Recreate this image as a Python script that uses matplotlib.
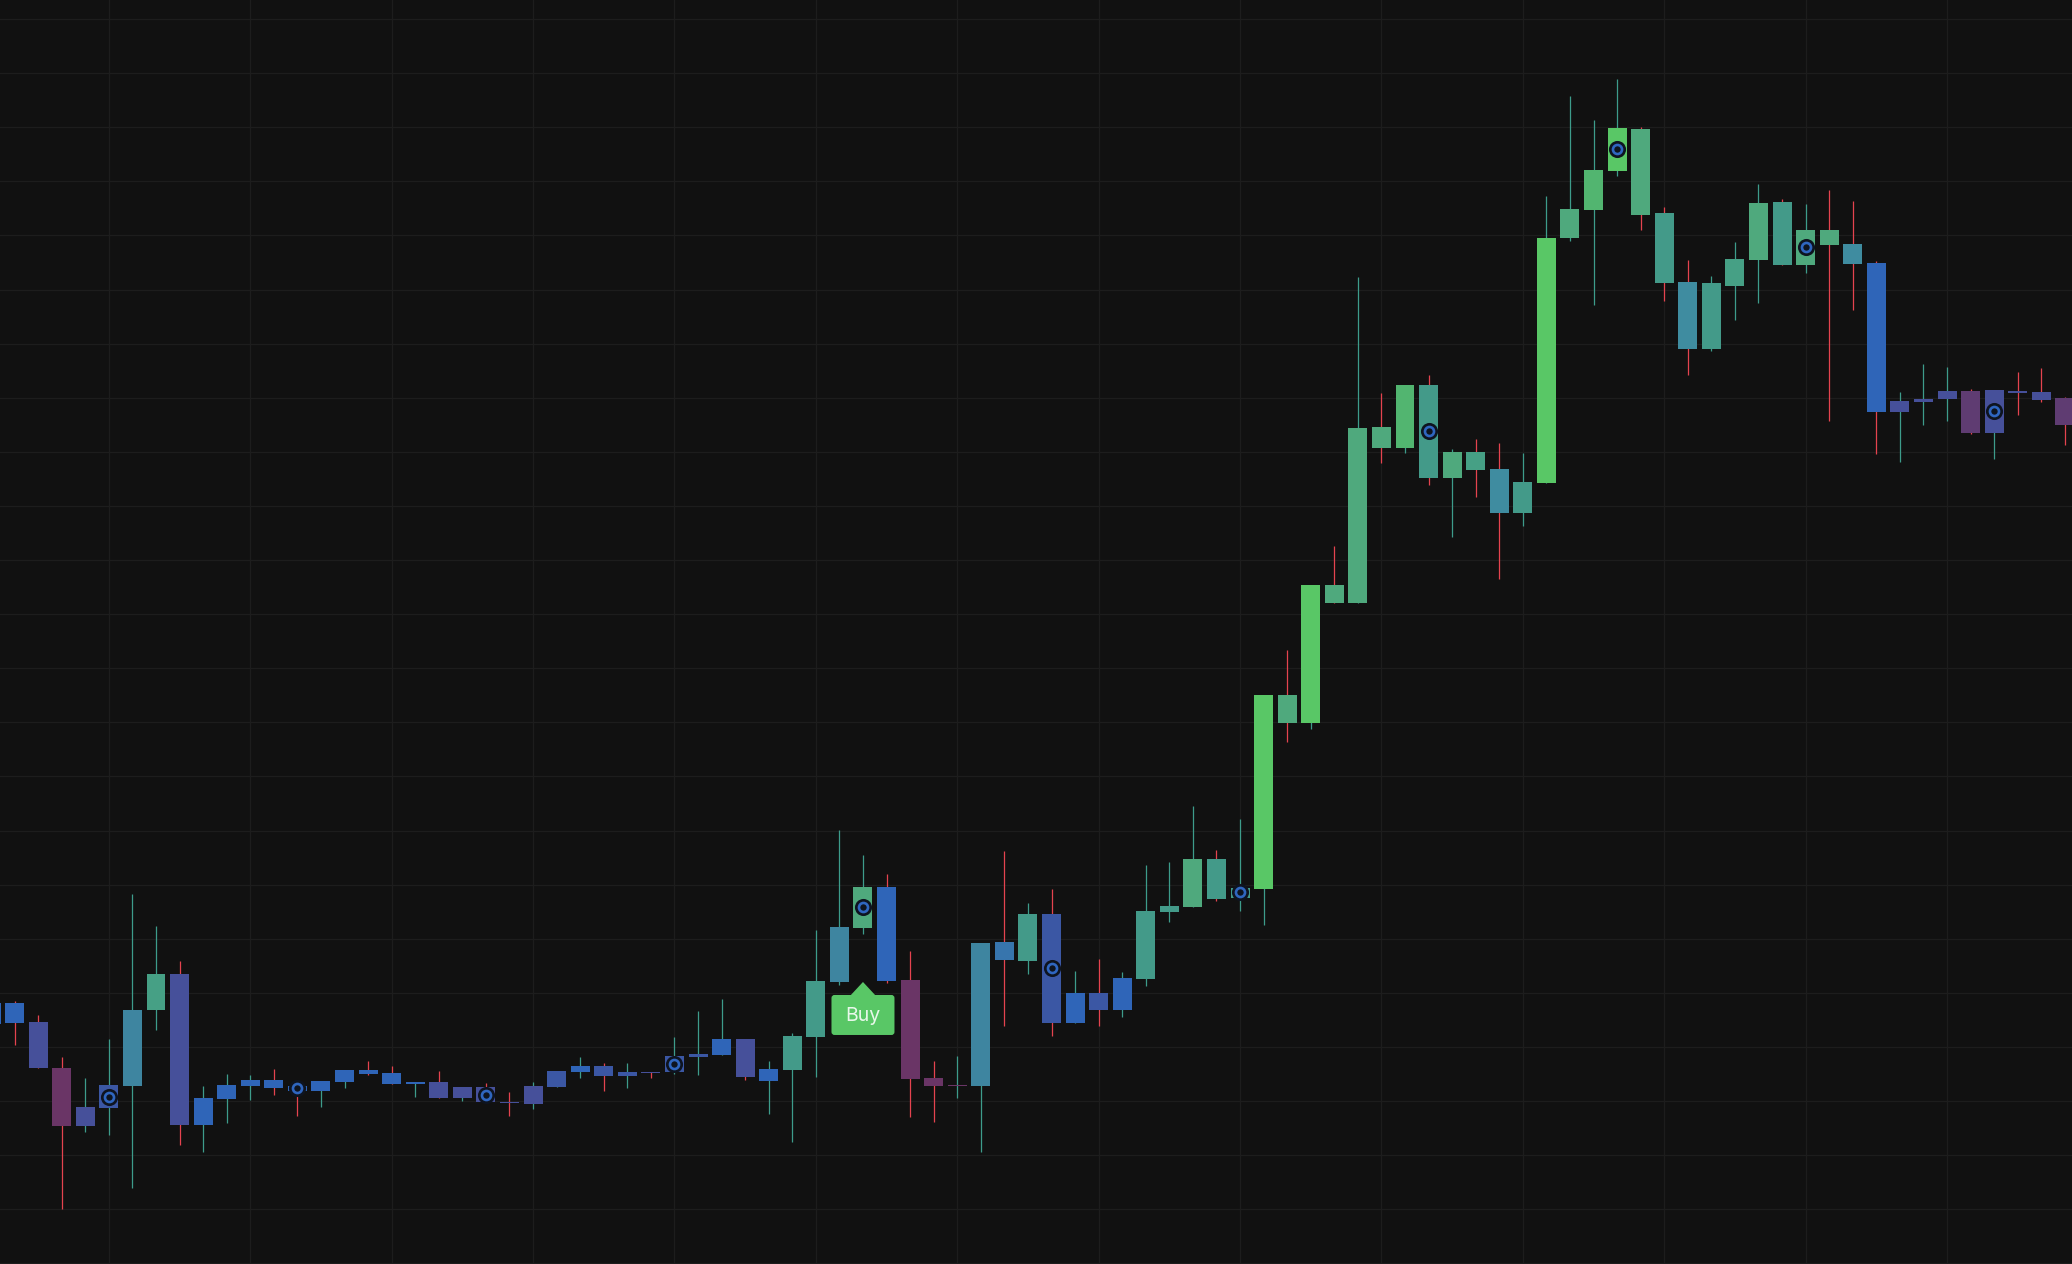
import numpy as np
import matplotlib
matplotlib.use("Agg")
import matplotlib.pyplot as plt
from matplotlib.patches import FancyBboxPatch, Polygon
from matplotlib.transforms import Affine2D

# candle data, index starts at -1 (one bar is cut by the left edge)
first_index = -1
body_top = [261, 261, 242, 196, 157, 179, 254, 290, 290, 166,
            179, 184, 184, 178, 183, 194, 194, 191, 182, 182,
            177, 177, 162, 178, 193, 198, 198, 192, 192, 208,
            210, 225, 225, 195, 228, 283, 337, 377, 377, 284,
            186, 179, 321, 322, 350, 350, 271, 271, 286, 353,
            358, 405, 405, 376, 569, 569, 679, 679, 836, 837,
            879, 879, 812, 812, 795, 782, 1026, 1055, 1094, 1136,
            1135, 1051, 982, 981, 1005, 1061, 1062, 1034, 1034, 1020,
            1001, 863, 865, 873, 873, 874, 873, 872, 866]
body_bottom = [240, 241, 196, 138, 138, 156, 178, 254, 139, 139,
               165, 178, 176, 173, 173, 182, 190, 180, 180, 166,
               166, 162, 161, 160, 177, 192, 188, 188, 191, 192,
               207, 209, 187, 183, 194, 227, 282, 336, 283, 185,
               178, 178, 178, 304, 303, 241, 241, 254, 254, 285,
               352, 357, 365, 366, 375, 541, 541, 661, 661, 816,
               816, 786, 786, 794, 751, 751, 781, 1026, 1054, 1093,
               1049, 981, 915, 915, 978, 1004, 999, 999, 1019, 1000,
               852, 852, 862, 865, 831, 831, 871, 864, 839]
high = [261, 263, 249, 207, 186, 225, 370, 338, 303, 178,
        190, 189, 195, 178, 183, 194, 203, 198, 182, 193,
        177, 181, 172, 182, 193, 207, 201, 201, 192, 227,
        253, 265, 225, 203, 231, 334, 434, 409, 390, 313,
        203, 208, 321, 413, 361, 375, 293, 305, 292, 399,
        402, 458, 414, 445, 569, 614, 679, 718, 987, 871,
        879, 889, 815, 825, 821, 811, 1068, 1168, 1144, 1185,
        1137, 1057, 1004, 988, 1022, 1080, 1065, 1060, 1074, 1063,
        1003, 872, 900, 897, 875, 874, 892, 896, 867]
low = [240, 219, 196, 55, 132, 129, 76, 234, 119, 112,
       141, 164, 169, 148, 157, 176, 189, 180, 167, 166,
       163, 162, 148, 155, 177, 186, 173, 176, 186, 190,
       189, 209, 184, 150, 122, 187, 279, 330, 281, 147,
       142, 166, 112, 238, 290, 228, 241, 238, 247, 278,
       342, 357, 363, 353, 339, 522, 535, 661, 661, 801,
       811, 779, 727, 767, 685, 738, 781, 1023, 959, 1088,
       1034, 963, 889, 913, 944, 961, 999, 991, 843, 954,
       810, 802, 839, 843, 830, 805, 849, 862, 819]

# colour class of each body, ten bars a row
body_class = ("B B I P I M C A I B "
              "B B B B B B B B B I "
              "I I I I M B M M I M "
              "M B I B T T C G B P "
              "P P C K T M B M B T "
              "T G T T L G L G G G "
              "S T G A H T L G S L "
              "G T H T A G T G G H "
              "B I I I N I I I N").split()
red_wicks = [0, 1, 2, 7, 11, 12, 15, 16, 18, 20, 21, 25, 27, 31, 37, 38, 39,
             42, 44, 46, 51, 54, 56, 58, 60, 62, 63, 69, 70, 71, 75, 77, 78,
             79, 83, 85, 86, 87]

# ring markers and the buy signal
ring_index = [4, 12, 20, 28, 36, 44, 52, 60, 68, 76, 84]
ring_price = [167.3, 176, 169.3, 200.3, 357, 296, 372, 833, 1115, 1017, 853]
buy_index = 36
buy_tip_price = 282

# grid
price_ticks = [0.6 + 54.1 * k for k in range(24)]
index_ticks = list(range(4, 88, 6))

palette = {
    "P": "#6a3566", "N": "#5f3c72", "I": "#46509a", "M": "#3b57a4",
    "B": "#2f65b8", "K": "#3775ad", "C": "#3e85a0", "H": "#3f8ca0",
    "T": "#439a89", "A": "#46a085", "G": "#4fa97d", "S": "#52b570",
    "L": "#59c766",
}
bg = "#111111"
grid_color = "#1d1d1d"
wick_teal = "#3d9c8b"
wick_red = "#e5434f"
buy_green = "#59c766"

fig = plt.figure(figsize=(20.721, 12.641), dpi=100, facecolor=bg)
ax = fig.add_axes([0, 0, 1, 1], facecolor=bg)

idx = np.arange(first_index, first_index + len(body_top))
top = np.array(body_top, dtype=float)
bottom = np.array(body_bottom, dtype=float)
wick_colors = [wick_red if i in red_wicks else wick_teal for i in idx]
body_colors = [palette[c] for c in body_class]

ax.vlines(idx, low, high, colors=wick_colors, linewidth=0.9, zorder=2)
ax.bar(idx, top - bottom, bottom=bottom, width=0.806, color=body_colors,
       linewidth=0, zorder=3)

# rings: dark disc, then blue circle
ax.plot(ring_index, ring_price, "o", ms=12.3, mfc="#0e1420", mec="none", zorder=4)
ax.plot(ring_index, ring_price, "o", ms=6.5, mfc="none", mec="#2f66c0", mew=1.9, zorder=5)

ax.set_xlim(-14.6 / 23.565, (2072 - 14.6) / 23.565)
ax.set_ylim(0, 1264)
ax.set_xticks(index_ticks)
ax.set_yticks(price_ticks)
ax.grid(True, color=grid_color, linewidth=0.9, zorder=0)
ax.set_axisbelow(True)
ax.tick_params(left=False, bottom=False, labelleft=False, labelbottom=False)
for s in ax.spines.values():
    s.set_visible(False)

# buy label, sized in pixels from its tip
tip_x, tip_y = ax.transData.transform((buy_index, buy_tip_price))
to_tip = Affine2D().translate(tip_x, tip_y)
ax.add_patch(Polygon([(-13, -14), (0, 0), (13, -14)], closed=True, fc=buy_green,
                     ec="none", transform=to_tip, zorder=6))
ax.add_patch(FancyBboxPatch((-31.5, -53), 63, 40, boxstyle="round,pad=0,rounding_size=3",
                            fc=buy_green, ec="none", transform=to_tip, zorder=6))
ax.text(tip_x, tip_y - 33.5, "Buy", transform=None, color="#e8f8ea", fontsize=14,
        family="Inter", ha="center", va="center", zorder=7)

fig.savefig("out.png", dpi=100, facecolor=bg)
